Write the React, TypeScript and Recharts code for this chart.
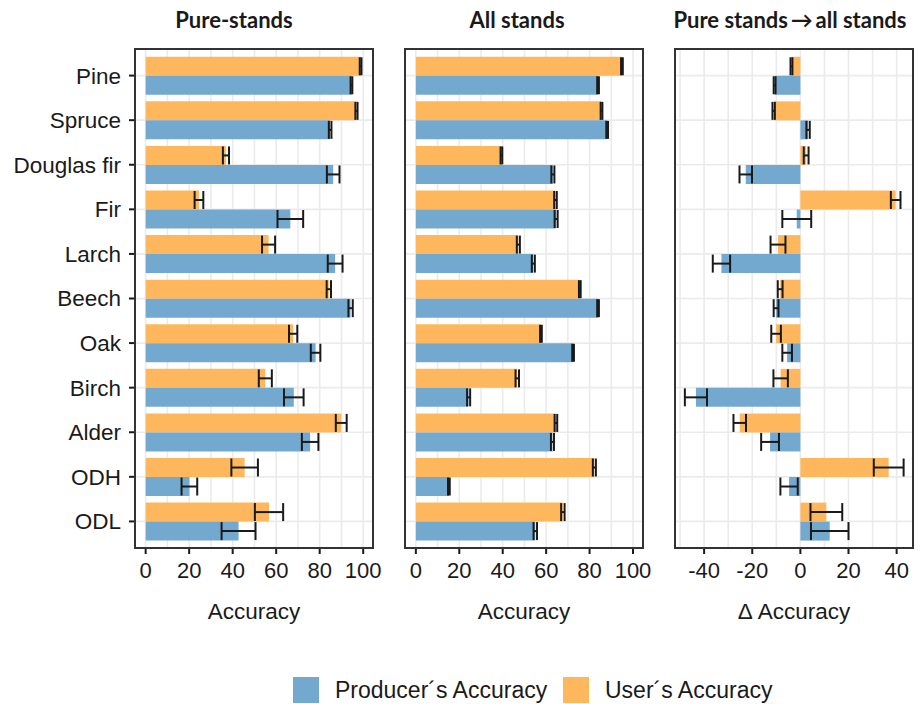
import React from 'react';
import { BarChart, Bar, XAxis, YAxis, CartesianGrid, ErrorBar } from 'recharts';

// ---------- data ----------
const categories = ['Pine', 'Spruce', 'Douglas fir', 'Fir', 'Larch', 'Beech', 'Oak', 'Birch', 'Alder', 'ODH', 'ODL'];

const pureProducer = [94.6, 84.8, 86.2, 66.5, 87.1, 94.2, 78.1, 68.1, 75.6, 20.1, 42.7];
const pureProducerErr = [0.4, 0.6, 2.9, 5.9, 3.4, 1.0, 2.2, 4.5, 3.8, 3.6, 7.8];
const pureUser = [98.8, 96.9, 36.9, 24.5, 56.5, 84.2, 67.8, 55.0, 89.9, 45.5, 56.7];
const pureUserErr = [0.4, 0.5, 1.4, 2.0, 3.0, 1.0, 1.9, 3.0, 2.5, 6.1, 6.5];

const allProducer = [83.9, 88.1, 63.1, 64.6, 54.1, 83.9, 72.4, 24.3, 62.9, 15.2, 55.0];
const allProducerErr = [0.4, 0.4, 0.7, 0.7, 0.7, 0.4, 0.4, 0.7, 0.7, 0.4, 0.8];
const allUser = [94.9, 85.5, 39.4, 64.3, 47.2, 75.5, 57.6, 46.7, 64.5, 82.2, 67.7];
const allUserErr = [0.4, 0.4, 0.4, 0.6, 0.7, 0.4, 0.4, 0.8, 0.6, 0.7, 0.8];

const deltaProducer = [-10.7, 3.2, -22.7, -1.5, -32.8, -10.1, -5.5, -43.4, -12.6, -4.7, 12.2];
const deltaProducerErr = [0.4, 0.7, 2.6, 6.0, 3.6, 1.0, 2.0, 4.6, 3.7, 3.6, 7.8];
const deltaUser = [-3.7, -11.1, 2.4, 39.6, -9.3, -8.4, -10.1, -8.2, -25.2, 36.7, 10.8];
const deltaUserErr = [0.4, 0.5, 1.0, 2.0, 3.1, 1.0, 2.0, 3.0, 2.6, 6.2, 6.6];

const accuracyGridTicks = [0, 10, 20, 30, 40, 50, 60, 70, 80, 90, 100];
const accuracyLabelTicks = [0, 20, 40, 60, 80, 100];
const deltaGridTicks = [-50, -40, -30, -20, -10, 0, 10, 20, 30, 40];
const deltaLabelTicks = [-40, -20, 0, 20, 40];

const panelTitles = ['Pure-stands', 'All stands', 'Pure stands\u2009\u2192\u2009all stands'];
const axisTitles = ['Accuracy', 'Accuracy', '\u0394 Accuracy'];
const legendLabels = ['Producer\u00b4s Accuracy', 'User\u00b4s Accuracy'];

// ---------- style ----------
const BLUE = '#74A9CF';
const ORANGE = '#FFB75E';
const INK = '#1a1a1a';
const GRID = '#EBEBEB';
const FONT = '"Liberation Sans", Arial, sans-serif';
const TITLE_FONT = 'Lato, "Open Sans", sans-serif';

const PLOT_TOP = 49;
const PLOT_H = 499;
const XAXIS_H = 40;
const CHART_H = 600;

function makeRows(prod: number[], prodErr: number[], user: number[], userErr: number[]) {
  return categories.map((c, i) => ({
    cat: c,
    producer: prod[i],
    producerErr: prodErr[i],
    user: user[i],
    userErr: userErr[i],
  }));
}

type PanelProps = {
  rows: any[];
  domain: [number, number];
  gridTicks: number[];
  labelTicks: number[];
  showY: boolean;
  left: number;
  width: number;
  marginLeft: number;
  marginRight: number;
  yWidth: number;
  title: string;
  titleCenter: number;
  axisTitle: string;
};

function Panel(p: PanelProps) {
  const major = new Set(p.labelTicks);
  const plotLeft = p.left + p.marginLeft + p.yWidth;
  const plotRight = p.left + p.width - p.marginRight;
  const plotCenter = (plotLeft + plotRight) / 2;

  const XTick = (props: any) => {
    const { x, y, payload } = props;
    if (!major.has(payload.value)) return <g />;
    return (
      <g>
        <line x1={x} x2={x} y1={y} y2={y + 6} stroke={INK} strokeWidth={2} />
        <text x={x} y={y + 30} textAnchor="middle" fontSize={22} fill={INK} fontFamily={FONT}>
          {String(payload.value)}
        </text>
      </g>
    );
  };

  return (
    <>
      <div style={{ position: 'absolute', left: p.left, top: 0 }}>
        <BarChart
          width={p.width}
          height={CHART_H}
          data={p.rows}
          layout="vertical"
          margin={{ top: PLOT_TOP, right: p.marginRight, bottom: CHART_H - PLOT_TOP - PLOT_H - XAXIS_H, left: p.marginLeft }}
          barCategoryGap="7.8%"
          barGap={0}
        >
          <CartesianGrid stroke={GRID} strokeWidth={1.6} />
          <XAxis
            type="number"
            domain={p.domain}
            ticks={p.gridTicks}
            interval={0}
            allowDataOverflow
            height={XAXIS_H}
            axisLine={false}
            tickLine={false}
            tickSize={0}
            tickMargin={0}
            tick={XTick}
          />
          <YAxis
            type="category"
            dataKey="cat"
            width={p.yWidth}
            hide={!p.showY}
            padding={{ top: 4.3, bottom: 4.3 }}
            axisLine={false}
            tickSize={6}
            tickMargin={8}
            tickLine={{ stroke: INK, strokeWidth: 2 }}
            tick={{ fontSize: 22.5, fill: INK, fontFamily: FONT }}
            interval={0}
          />
          <Bar dataKey="user" fill={ORANGE} isAnimationActive={false}>
            <ErrorBar dataKey="userErr" direction="x" width={9} stroke={INK} strokeWidth={2} />
          </Bar>
          <Bar dataKey="producer" fill={BLUE} isAnimationActive={false}>
            <ErrorBar dataKey="producerErr" direction="x" width={9} stroke={INK} strokeWidth={2} />
          </Bar>
        </BarChart>
      </div>
      <div
        style={{
          position: 'absolute',
          left: plotLeft - 1,
          top: PLOT_TOP - 1,
          width: plotRight - plotLeft + 2,
          height: PLOT_H + 2,
          border: '2px solid #333',
          boxSizing: 'border-box',
          pointerEvents: 'none',
        }}
      />
      <div
        style={{
          position: 'absolute',
          left: p.titleCenter - 150,
          width: 300,
          top: 5,
          textAlign: 'center',
          fontFamily: TITLE_FONT,
          fontWeight: 700,
          fontSize: 22,
          lineHeight: '30px',
          color: INK,
          whiteSpace: 'nowrap',
        }}
      >
        {p.title}
      </div>
      <div
        style={{
          position: 'absolute',
          left: plotCenter - 150,
          width: 300,
          top: 596,
          textAlign: 'center',
          fontFamily: FONT,
          fontSize: 22.5,
          lineHeight: '32px',
          color: INK,
        }}
      >
        {p.axisTitle}
      </div>
    </>
  );
}

export default function App() {
  const pureRows = makeRows(pureProducer, pureProducerErr, pureUser, pureUserErr);
  const allRows = makeRows(allProducer, allProducerErr, allUser, allUserErr);
  const deltaRows = makeRows(deltaProducer, deltaProducerErr, deltaUser, deltaUserErr);

  return (
    <div style={{ position: 'absolute', left: 0, top: 0, width: 918, height: 704, background: '#fff', overflow: 'hidden' }}>
      <Panel
        rows={pureRows}
        domain={[-4.9, 104.5]}
        gridTicks={accuracyGridTicks}
        labelTicks={accuracyLabelTicks}
        showY
        left={0}
        width={392}
        marginLeft={6}
        marginRight={19}
        yWidth={129}
        title={panelTitles[0]}
        titleCenter={234}
        axisTitle={axisTitles[0]}
      />
      <Panel
        rows={allRows}
        domain={[-5, 104.6]}
        gridTicks={accuracyGridTicks}
        labelTicks={accuracyLabelTicks}
        showY={false}
        left={396}
        width={264}
        marginLeft={9}
        marginRight={17}
        yWidth={0}
        title={panelTitles[1]}
        titleCenter={517}
        axisTitle={axisTitles[1]}
      />
      <Panel
        rows={deltaRows}
        domain={[-52.1, 46.8]}
        gridTicks={deltaGridTicks}
        labelTicks={deltaLabelTicks}
        showY={false}
        left={664}
        width={254}
        marginLeft={11}
        marginRight={5}
        yWidth={0}
        title={panelTitles[2]}
        titleCenter={790}
        axisTitle={axisTitles[2]}
      />
      {/* legend */}
      <div style={{ position: 'absolute', left: 293, top: 677, width: 26, height: 26, background: BLUE }} />
      <div style={{ position: 'absolute', left: 335, top: 674, fontFamily: FONT, fontSize: 23, lineHeight: '32px', color: INK, whiteSpace: 'nowrap' }}>
        {legendLabels[0]}
      </div>
      <div style={{ position: 'absolute', left: 563, top: 677, width: 26, height: 26, background: ORANGE }} />
      <div style={{ position: 'absolute', left: 605, top: 674, fontFamily: FONT, fontSize: 23, lineHeight: '32px', color: INK, whiteSpace: 'nowrap' }}>
        {legendLabels[1]}
      </div>
    </div>
  );
}
